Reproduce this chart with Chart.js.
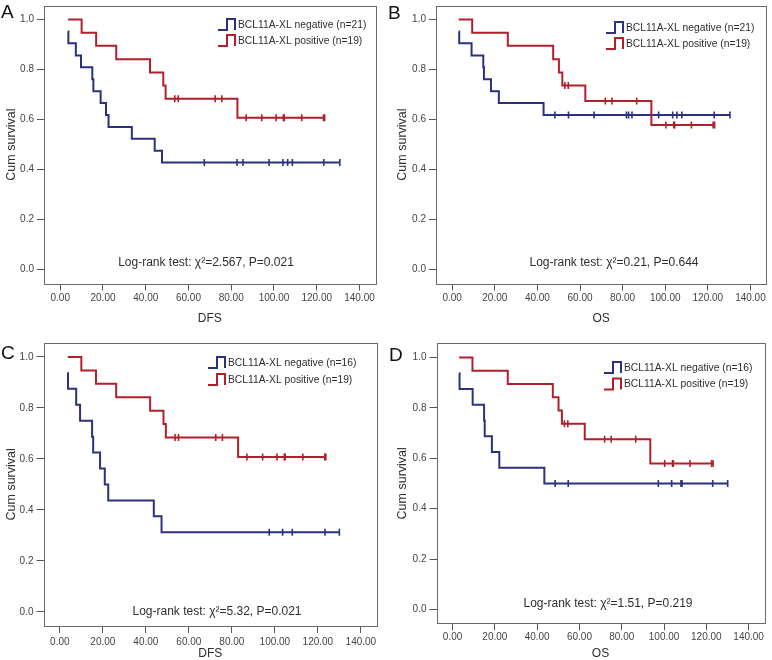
<!DOCTYPE html>
<html>
<head>
<meta charset="utf-8">
<title>BCL11A-XL survival curves</title>
<script src="https://cdn.jsdelivr.net/npm/chart.js@4.4.1/dist/chart.umd.min.js"></script>
<style>
  body { margin: 0; background: #fff; }
  #page { position: relative; width: 772px; height: 660px; overflow: hidden; background: #fff; }
  .panel { position: absolute; width: 386px; height: 330px; }
  .panel canvas { display: block; }
  .tag { position: absolute; font: 19px/19px "Liberation Sans", Arial, sans-serif; color: #111; }
</style>
</head>
<body>
<div id="page">
  <div class="panel" style="left:0;top:0"><canvas id="kmA" width="386" height="330"></canvas></div>
  <div class="panel" style="left:386px;top:0"><canvas id="kmB" width="386" height="330"></canvas></div>
  <div class="panel" style="left:0;top:330px"><canvas id="kmC" width="386" height="330"></canvas></div>
  <div class="panel" style="left:386px;top:330px"><canvas id="kmD" width="386" height="330"></canvas></div>
  <div class="tag" style="left:1px;top:2px">A</div>
  <div class="tag" style="left:388px;top:3px">B</div>
  <div class="tag" style="left:1px;top:343px">C</div>
  <div class="tag" style="left:389px;top:345px">D</div>
</div>
<script>
// ------------------------------------------------ AXES ------------------------------------------------

const xTicks = [0, 20, 40, 60, 80, 100, 120, 140];
const yTicks = [0, 0.2, 0.4, 0.6, 0.8, 1.0];

// ------------------------------------------------ DFS ------------------------------------------------

// BCL11A-XL negative (n=21) - event times / survival after the event / censored times
const dfsNeg21Time = [3.5, 3.8, 7.3, 9.7, 15.0, 15.5, 18.9, 21.4, 22.6, 33.5, 44.2, 47.6];
const dfsNeg21Surv = [0.952, 0.905, 0.857, 0.810, 0.762, 0.714, 0.667, 0.619, 0.571, 0.524, 0.476, 0.429];
const dfsNeg21Cens = [67.4, 82.7, 85.5, 97.7, 104.2, 106.4, 108.6, 123.3, 130.8];

// BCL11A-XL negative (n=16)
const dfsNeg16Time = [3.6, 3.8, 7.6, 9.4, 15.0, 15.5, 18.7, 20.9, 22.5, 43.7, 47.3];
const dfsNeg16Surv = [0.9375, 0.875, 0.8125, 0.75, 0.6875, 0.625, 0.5625, 0.5, 0.4375, 0.375, 0.3125];
const dfsNeg16Cens = [97.4, 103.6, 108.1, 123.3, 130.0];

// BCL11A-XL positive (n=19)
const dfsPosTime = [3.7, 10.0, 16.8, 26.2, 42.0, 48.2, 49.3, 82.9];
const dfsPosSurv = [1.0, 0.947, 0.895, 0.842, 0.789, 0.737, 0.684, 0.608];
const dfsPosCens = [53.6, 55.2, 72.5, 75.6, 87.0, 94.3, 101.0, 104.4, 104.8, 113.0, 123.2, 123.7];

// ------------------------------------------------ OS ------------------------------------------------

// BCL11A-XL negative (n=21)
const osNeg21Time = [3.1, 3.3, 9.1, 14.6, 14.9, 18.2, 21.9, 42.9];
const osNeg21Surv = [0.952, 0.905, 0.857, 0.810, 0.762, 0.714, 0.667, 0.619];
const osNeg21Cens = [48.2, 54.6, 66.6, 81.8, 82.8, 84.4, 96.9, 103.5, 105.5, 107.8, 123.0, 130.4];

// BCL11A-XL negative (n=16)
const osNeg16Time = [3.1, 3.3, 9.5, 14.9, 15.2, 18.6, 22.1, 43.4];
const osNeg16Surv = [0.9375, 0.875, 0.8125, 0.75, 0.6875, 0.625, 0.5625, 0.5];
const osNeg16Cens = [48.5, 54.7, 97.3, 103.6, 108.0, 108.5, 123.0, 130.1];

// BCL11A-XL positive (n=19)
const osPosTime = [3.1, 9.4, 26.1, 47.4, 50.1, 51.7, 62.5, 93.5];
const osPosSurv = [1.0, 0.947, 0.895, 0.842, 0.789, 0.737, 0.675, 0.579];
const osPosCens = [52.9, 54.5, 71.9, 75.0, 86.6, 100.3, 104.0, 104.4, 112.3, 122.5, 123.2];

// ------------------------------------------------ STYLE / LAYOUT ------------------------------------------------

const FONT = '"Liberation Sans", Arial, Helvetica, sans-serif';
const NEG_COLOR = '#2b3180';
const POS_COLOR = '#b11f2b';
const FRAME_COLOR = '#6a6a6a';
const TEXT_COLOR = '#2e2e2e';

const panels = [
    { id: 'kmA', title: 'DFS', neg: [dfsNeg21Time, dfsNeg21Surv, dfsNeg21Cens], pos: [dfsPosTime, dfsPosSurv, dfsPosCens],
      negLabel: 'BCL11A-XL negative (n=21)', posLabel: 'BCL11A-XL positive (n=19)', stat: 'Log-rank test: \u03C7\u00B2=2.567, P=0.021',
      frame: { l: 44, t: 3, r: 375.5, b: 283.5 }, yTitlePad: 4.5, xTitlePad: 4.5, xTitleLH: 1.2, xTickPad: 2,
      legend: { x: 238, y: 25, gap: 16 }, statPos: { x: 206, y: 263 } },
    { id: 'kmB', title: 'OS', neg: [osNeg21Time, osNeg21Surv, osNeg21Cens], pos: [osPosTime, osPosSurv, osPosCens],
      negLabel: 'BCL11A-XL negative (n=21)', posLabel: 'BCL11A-XL positive (n=19)', stat: 'Log-rank test: \u03C7\u00B2=0.21, P=0.644',
      frame: { l: 50, t: 3, r: 381, b: 283.5 }, yTitlePad: 9, xTitlePad: 4.5, xTitleLH: 1.2, xTickPad: 2,
      legend: { x: 240, y: 28, gap: 16 }, statPos: { x: 228, y: 263 } },
    { id: 'kmC', title: 'DFS', neg: [dfsNeg16Time, dfsNeg16Surv, dfsNeg16Cens], pos: [dfsPosTime, dfsPosSurv, dfsPosCens],
      negLabel: 'BCL11A-XL negative (n=16)', posLabel: 'BCL11A-XL positive (n=19)', stat: 'Log-rank test: \u03C7\u00B2=5.32, P=0.021',
      frame: { l: 43.5, t: 12.7, r: 377, b: 296 }, yTitlePad: 4.5, xTitlePad: 0, xTitleLH: 1, xTickPad: 3.5,
      legend: { x: 228, y: 33, gap: 17 }, statPos: { x: 217, y: 282 } },
    { id: 'kmD', title: 'OS', neg: [osNeg16Time, osNeg16Surv, osNeg16Cens], pos: [osPosTime, osPosSurv, osPosCens],
      negLabel: 'BCL11A-XL negative (n=16)', posLabel: 'BCL11A-XL positive (n=19)', stat: 'Log-rank test: \u03C7\u00B2=1.51, P=0.219',
      frame: { l: 50.5, t: 13.3, r: 378.5, b: 293.3 }, yTitlePad: 9, xTitlePad: 0, xTitleLH: 1, xTickPad: 0.5,
      legend: { x: 238, y: 38, gap: 16.5 }, statPos: { x: 222, y: 274 } }
];

// ------------------------------------------------ HELPERS ------------------------------------------------

function survAt(times, surv, t) {
    let s = surv[0];
    times.forEach((ti, i) => { if (ti <= t) s = surv[i]; });
    return s;
}

function kmLine(times, surv, cens) {
    const pts = times.map((t, i) => ({ x: t, y: surv[i] }));
    cens.forEach(c => pts.push({ x: c, y: survAt(times, surv, c) }));
    pts.sort((a, b) => a.x - b.x);
    return pts;
}

function kmCensored(times, surv, cens) {
    return cens.map(c => ({ x: c, y: survAt(times, surv, c) }));
}

// frame, legend with step icons, log-rank text
const kmExtras = {
    id: 'kmExtras',
    afterDraw(chart, args, opts) {
        const ctx = chart.ctx;
        const a = chart.chartArea;
        ctx.save();
        ctx.strokeStyle = FRAME_COLOR;
        ctx.lineWidth = 1;
        const l = Math.round(a.left) + 0.5, t = Math.round(a.top) + 0.5;
        ctx.strokeRect(l, t, Math.round(a.right) - Math.round(a.left), Math.round(a.bottom) - Math.round(a.top));

        opts.items.forEach((item, i) => {
            const x = opts.legend.x;
            const y = opts.legend.y + i * opts.legend.gap;
            ctx.strokeStyle = item.color;
            ctx.lineWidth = 2;
            ctx.lineJoin = 'miter';
            ctx.beginPath();
            ctx.moveTo(x - 20, y + 5);
            ctx.lineTo(x - 11, y + 5);
            ctx.lineTo(x - 11, y - 6);
            ctx.lineTo(x - 3, y - 6);
            ctx.lineTo(x - 3, y + 5);
            ctx.stroke();
            ctx.fillStyle = TEXT_COLOR;
            ctx.font = '10.3px ' + FONT;
            ctx.textAlign = 'left';
            ctx.textBaseline = 'middle';
            ctx.fillText(item.text, x, y);
        });

        ctx.fillStyle = TEXT_COLOR;
        ctx.font = '12px ' + FONT;
        ctx.textAlign = 'center';
        ctx.textBaseline = 'middle';
        ctx.fillText(opts.stat, opts.statPos.x, opts.statPos.y);
        ctx.restore();
    }
};

// ------------------------------------------------ CHARTS ------------------------------------------------

panels.forEach(p => {
    const neg = p.neg, pos = p.pos;
    const lineStyle = color => ({
        borderColor: color, backgroundColor: color, borderWidth: 2, pointRadius: 0,
        stepped: true, fill: false, borderCapStyle: 'butt', borderJoinStyle: 'miter'
    });
    const censStyle = color => ({
        showLine: false, pointStyle: 'line', rotation: 90, pointRadius: 3.5,
        pointBorderWidth: 1.6, borderColor: color, backgroundColor: color
    });

    new Chart(document.getElementById(p.id), {
        type: 'line',
        data: {
            datasets: [
                Object.assign({ label: p.posLabel, data: kmLine(pos[0], pos[1], pos[2]) }, lineStyle(POS_COLOR)),
                Object.assign({ label: p.negLabel, data: kmLine(neg[0], neg[1], neg[2]) }, lineStyle(NEG_COLOR)),
                Object.assign({ label: 'pos censored', data: kmCensored(pos[0], pos[1], pos[2]) }, censStyle(POS_COLOR)),
                Object.assign({ label: 'neg censored', data: kmCensored(neg[0], neg[1], neg[2]) }, censStyle(NEG_COLOR))
            ]
        },
        options: {
            responsive: false,
            animation: false,
            devicePixelRatio: 1,
            layout: { padding: { left: 0, right: 386 - p.frame.r, top: p.frame.t, bottom: 0 } },
            plugins: {
                legend: { display: false },
                tooltip: { enabled: false },
                kmExtras: {
                    items: [{ text: p.negLabel, color: NEG_COLOR }, { text: p.posLabel, color: POS_COLOR }],
                    legend: p.legend, stat: p.stat, statPos: p.statPos
                }
            },
            scales: {
                x: {
                    type: 'linear',
                    min: -7.6,
                    max: 147.5,
                    afterBuildTicks: s => { s.ticks = xTicks.map(v => ({ value: v })); },
                    afterFit: s => { s.height = 330 - p.frame.b; s.paddingLeft = 0; s.paddingRight = 0; },
                    grid: { display: true, drawOnChartArea: false, drawTicks: true, tickLength: 7, tickColor: '#555', tickWidth: 1 },
                    border: { display: false },
                    ticks: {
                        autoSkip: false, maxRotation: 0, minRotation: 0, padding: p.xTickPad,
                        color: '#444', font: { size: 10, family: FONT },
                        callback: v => Number(v).toFixed(2)
                    },
                    title: {
                        display: true, text: p.title, color: TEXT_COLOR,
                        font: { size: 12, family: FONT, lineHeight: p.xTitleLH },
                        padding: { top: 0, bottom: p.xTitlePad }
                    }
                },
                y: {
                    type: 'linear',
                    min: -0.055,
                    max: 1.056,
                    afterBuildTicks: s => { s.ticks = yTicks.map(v => ({ value: v })); },
                    afterFit: s => { s.width = p.frame.l; s.paddingTop = 0; s.paddingBottom = 0; },
                    grid: { display: true, drawOnChartArea: false, drawTicks: true, tickLength: 7, tickColor: '#555', tickWidth: 1 },
                    border: { display: false },
                    ticks: {
                        autoSkip: false, padding: 3,
                        color: '#444', font: { size: 10, family: FONT },
                        callback: v => Number(v).toFixed(1)
                    },
                    title: {
                        display: true, text: 'Cum survival', color: TEXT_COLOR,
                        font: { size: 12.5, family: FONT, lineHeight: 1.2 },
                        padding: { top: p.yTitlePad, bottom: 0 }
                    }
                }
            }
        },
        plugins: [kmExtras]
    });
});
</script>
</body>
</html>
